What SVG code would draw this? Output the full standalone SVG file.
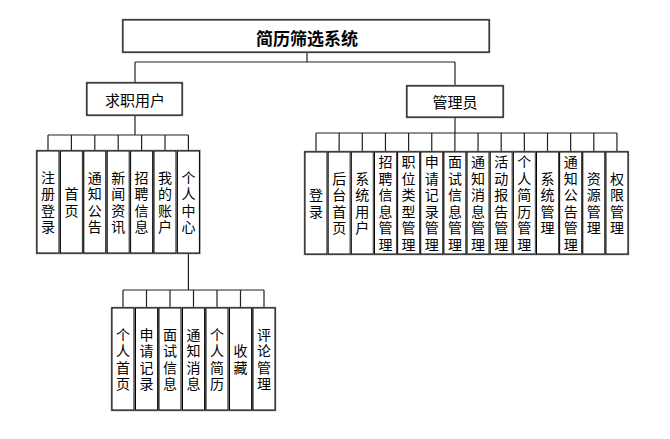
<svg xmlns="http://www.w3.org/2000/svg" width="670" height="439" viewBox="0 0 670 439">
<style>
.bx{fill:#fff;stroke:#000;stroke-width:1}
.sh{fill:none;stroke:#7a7a7a;stroke-width:2.4}
.ln{fill:none;stroke:#222;stroke-width:1.2}
text{font-family:"Noto Sans CJK SC","Noto Sans",sans-serif;fill:#000;text-anchor:middle}
.ti{font-size:17px;font-weight:bold;dominant-baseline:central}
.l1{font-size:15px;dominant-baseline:central}
.v{font-size:14px;writing-mode:vertical-rl;letter-spacing:2.5px}
</style>
<rect width="670" height="439" fill="#fff"/>
<g id="connectors">
<path class="ln" d="M307 52V62M135 62H455M135 62V83M455 62V86"/>
<path class="ln" d="M135 115V135M48 135H188.4M48 135V151M71.4 135V151M94.8 135V151M118.2 135V151M141.6 135V151M165 135V151M188.4 135V151"/>
<path class="ln" d="M455 117V133M316 133H617M316 133V152M339.15 133V152M362.3 133V152M385.45 133V152M408.6 133V152M431.75 133V152M454.9 133V152M478.05 133V152M501.2 133V152M524.35 133V152M547.5 133V152M570.65 133V152M593.8 133V152M616.95 133V152"/>
<path class="ln" d="M188.4 253V290M123 290H264M123 290V308M146.5 290V308M170 290V308M193.5 290V308M217 290V308M240.5 290V308M264 290V308"/>
</g>
<g id="root"><rect class="sh" x="123" y="20" width="366" height="32"/><rect class="bx" x="123" y="20" width="366" height="32"/><text class="ti" x="307" y="37">简历筛选系统</text></g>
<g id="user"><rect class="sh" x="87" y="83" width="95" height="32"/><rect class="bx" x="87" y="83" width="95" height="32"/><text class="l1" x="135" y="99">求职用户</text></g>
<g id="admin"><rect class="sh" x="407" y="86" width="96" height="31"/><rect class="bx" x="407" y="86" width="96" height="31"/><text class="l1" x="455" y="101">管理员</text></g>

<g id="u1"><rect class="sh" x="37" y="151" width="22" height="102"/><rect class="bx" x="37" y="151" width="22" height="102"/><text class="v" x="48" y="203.25">注册登录</text></g>
<g id="u2"><rect class="sh" x="60.4" y="151" width="22" height="102"/><rect class="bx" x="60.4" y="151" width="22" height="102"/><text class="v" x="71.4" y="203.25">首页</text></g>
<g id="u3"><rect class="sh" x="83.8" y="151" width="22" height="102"/><rect class="bx" x="83.8" y="151" width="22" height="102"/><text class="v" x="94.8" y="203.25">通知公告</text></g>
<g id="u4"><rect class="sh" x="107.2" y="151" width="22" height="102"/><rect class="bx" x="107.2" y="151" width="22" height="102"/><text class="v" x="118.2" y="203.25">新闻资讯</text></g>
<g id="u5"><rect class="sh" x="130.6" y="151" width="22" height="102"/><rect class="bx" x="130.6" y="151" width="22" height="102"/><text class="v" x="141.6" y="203.25">招聘信息</text></g>
<g id="u6"><rect class="sh" x="154" y="151" width="22" height="102"/><rect class="bx" x="154" y="151" width="22" height="102"/><text class="v" x="165" y="203.25">我的账户</text></g>
<g id="u7"><rect class="sh" x="177.4" y="151" width="22" height="102"/><rect class="bx" x="177.4" y="151" width="22" height="102"/><text class="v" x="188.4" y="203.25">个人中心</text></g>

<g id="p1"><rect class="sh" x="112" y="308" width="22" height="102"/><rect class="bx" x="112" y="308" width="22" height="102"/><text class="v" x="123" y="360.25">个人首页</text></g>
<g id="p2"><rect class="sh" x="135.5" y="308" width="22" height="102"/><rect class="bx" x="135.5" y="308" width="22" height="102"/><text class="v" x="146.5" y="360.25">申请记录</text></g>
<g id="p3"><rect class="sh" x="159" y="308" width="22" height="102"/><rect class="bx" x="159" y="308" width="22" height="102"/><text class="v" x="170" y="360.25">面试信息</text></g>
<g id="p4"><rect class="sh" x="182.5" y="308" width="22" height="102"/><rect class="bx" x="182.5" y="308" width="22" height="102"/><text class="v" x="193.5" y="360.25">通知消息</text></g>
<g id="p5"><rect class="sh" x="206" y="308" width="22" height="102"/><rect class="bx" x="206" y="308" width="22" height="102"/><text class="v" x="217" y="360.25">个人简历</text></g>
<g id="p6"><rect class="sh" x="229.5" y="308" width="22" height="102"/><rect class="bx" x="229.5" y="308" width="22" height="102"/><text class="v" x="240.5" y="360.25">收藏</text></g>
<g id="p7"><rect class="sh" x="253" y="308" width="22" height="102"/><rect class="bx" x="253" y="308" width="22" height="102"/><text class="v" x="264" y="360.25">评论管理</text></g>

<g id="a1"><rect class="sh" x="305" y="152" width="22" height="102"/><rect class="bx" x="305" y="152" width="22" height="102"/><text class="v" x="316" y="204.25">登录</text></g>
<g id="a2"><rect class="sh" x="328.15" y="152" width="22" height="102"/><rect class="bx" x="328.15" y="152" width="22" height="102"/><text class="v" x="339.15" y="204.25">后台首页</text></g>
<g id="a3"><rect class="sh" x="351.3" y="152" width="22" height="102"/><rect class="bx" x="351.3" y="152" width="22" height="102"/><text class="v" x="362.3" y="204.25">系统用户</text></g>
<g id="a4"><rect class="sh" x="374.45" y="152" width="22" height="102"/><rect class="bx" x="374.45" y="152" width="22" height="102"/><text class="v" x="385.45" y="204.25">招聘信息管理</text></g>
<g id="a5"><rect class="sh" x="397.6" y="152" width="22" height="102"/><rect class="bx" x="397.6" y="152" width="22" height="102"/><text class="v" x="408.6" y="204.25">职位类型管理</text></g>
<g id="a6"><rect class="sh" x="420.75" y="152" width="22" height="102"/><rect class="bx" x="420.75" y="152" width="22" height="102"/><text class="v" x="431.75" y="204.25">申请记录管理</text></g>
<g id="a7"><rect class="sh" x="443.9" y="152" width="22" height="102"/><rect class="bx" x="443.9" y="152" width="22" height="102"/><text class="v" x="454.9" y="204.25">面试信息管理</text></g>
<g id="a8"><rect class="sh" x="467.05" y="152" width="22" height="102"/><rect class="bx" x="467.05" y="152" width="22" height="102"/><text class="v" x="478.05" y="204.25">通知消息管理</text></g>
<g id="a9"><rect class="sh" x="490.2" y="152" width="22" height="102"/><rect class="bx" x="490.2" y="152" width="22" height="102"/><text class="v" x="501.2" y="204.25">活动报告管理</text></g>
<g id="a10"><rect class="sh" x="513.35" y="152" width="22" height="102"/><rect class="bx" x="513.35" y="152" width="22" height="102"/><text class="v" x="524.35" y="204.25">个人简历管理</text></g>
<g id="a11"><rect class="sh" x="536.5" y="152" width="22" height="102"/><rect class="bx" x="536.5" y="152" width="22" height="102"/><text class="v" x="547.5" y="204.25">系统管理</text></g>
<g id="a12"><rect class="sh" x="559.65" y="152" width="22" height="102"/><rect class="bx" x="559.65" y="152" width="22" height="102"/><text class="v" x="570.65" y="204.25">通知公告管理</text></g>
<g id="a13"><rect class="sh" x="582.8" y="152" width="22" height="102"/><rect class="bx" x="582.8" y="152" width="22" height="102"/><text class="v" x="593.8" y="204.25">资源管理</text></g>
<g id="a14"><rect class="sh" x="605.95" y="152" width="22" height="102"/><rect class="bx" x="605.95" y="152" width="22" height="102"/><text class="v" x="616.95" y="204.25">权限管理</text></g>
</svg>
